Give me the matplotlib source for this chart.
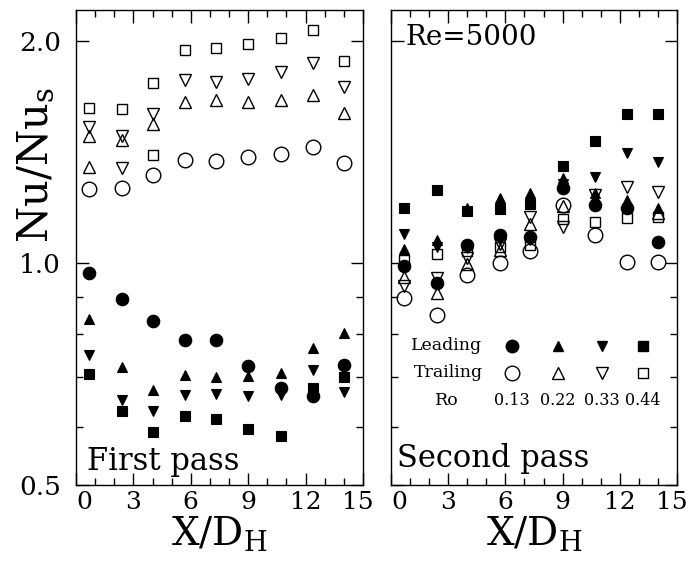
import numpy as np
import matplotlib.pyplot as plt
from matplotlib.ticker import FixedLocator, FixedFormatter, NullFormatter
from matplotlib.transforms import ScaledTranslation

plt.rcParams['font.family'] = 'DejaVu Serif'
plt.rcParams['mathtext.fontset'] = 'dejavuserif'
plt.rcParams['axes.linewidth'] = 1.0

# Measurement stations (X/D_H)
x_station = [0.7, 2.4, 4.0, 5.7, 7.3, 9.0, 10.7, 12.4, 14.0]
ro_labels = ['0.13', '0.22', '0.33', '0.44']

# First pass, leading wall (filled) for Ro = 0.13, 0.22, 0.33, 0.44
p1_lead_013 = [0.970, 0.893, 0.835, 0.785, 0.785, 0.724, 0.677, 0.660, 0.726]
p1_lead_022 = [0.838, 0.722, 0.672, 0.704, 0.700, 0.703, 0.708, 0.767, 0.804]
p1_lead_033 = [0.751, 0.651, 0.630, 0.663, 0.665, 0.660, 0.663, 0.715, 0.668]
p1_lead_044 = [0.706, 0.629, 0.589, 0.620, 0.614, 0.596, 0.583, 0.677, 0.701]

# First pass, trailing wall (open)
p1_trail_013 = [1.257, 1.261, 1.315, 1.380, 1.373, 1.389, 1.403, 1.436, 1.363]
p1_trail_022 = [1.484, 1.466, 1.540, 1.651, 1.660, 1.651, 1.660, 1.686, 1.595]
p1_trail_033 = [1.528, 1.484, 1.592, 1.770, 1.757, 1.775, 1.812, 1.864, 1.730]
p1_trail_044 = [1.622, 1.617, 1.751, 1.943, 1.953, 1.980, 2.017, 2.068, 1.874]

# extra open points in the first pass (one per series)
p1_extra_x = [0.7, 2.4, 4.0]
p1_extra_y = [1.349, 1.342, 1.399]
p1_extra_series = [1, 2, 3]

# Second pass, leading wall (filled)
p2_lead_013 = [0.989, 0.939, 1.057, 1.091, 1.083, 1.261, 1.198, 1.185, 1.068]
p2_lead_022 = [1.044, 1.072, 1.186, 1.223, 1.244, 1.301, 1.242, 1.216, 1.186]
p2_lead_033 = [1.093, 1.052, 1.047, 1.074, 1.074, 1.280, 1.305, 1.409, 1.370]
p2_lead_044 = [1.185, 1.255, 1.176, 1.181, 1.201, 1.352, 1.462, 1.592, 1.589]

# Second pass, trailing wall (open)
p2_trail_013 = [0.896, 0.849, 0.963, 0.999, 1.036, 1.198, 1.089, 1.004, 1.004]
p2_trail_022 = [0.958, 0.911, 0.997, 1.041, 1.129, 1.194, 1.220, 1.205, 1.168]
p2_trail_033 = [0.929, 0.954, 1.016, 1.061, 1.155, 1.119, 1.235, 1.268, 1.248]
p2_trail_044 = [1.009, 1.028, 1.036, 1.052, 1.057, 1.146, 1.134, 1.149, 1.154]

markers = ['o', '^', 'v', 's']
ms_filled = [9, 7.5, 7.5, 7]
ms_open = [10.5, 8, 8, 7.5]


def draw_pass(ax, lead, trail):
    for i, m in enumerate(markers):
        ax.plot(x_station, trail[i], ls='none', marker=m, ms=ms_open[i],
                mfc='none', mec='black', mew=1.0)
        ax.plot(x_station, lead[i], ls='none', marker=m, ms=ms_filled[i],
                mfc='black', mec='black', mew=0.8)


def style_axes(ax, ylabels):
    ax.set_yscale('log')
    ax.set_xlim(0, 15)
    ax.set_ylim(0.5, 2.2)
    ax.xaxis.set_major_locator(FixedLocator([0, 3, 6, 9, 12, 15]))
    ax.xaxis.set_major_formatter(FixedFormatter(['0', '3', '6', '9', '12', '15']))
    ax.xaxis.set_minor_locator(FixedLocator(list(range(1, 15))))
    ax.yaxis.set_major_locator(FixedLocator([0.5, 1.0, 2.0]))
    ax.yaxis.set_minor_locator(FixedLocator([0.6, 0.7, 0.8, 0.9]))
    ax.yaxis.set_minor_formatter(NullFormatter())
    if ylabels:
        ax.yaxis.set_major_formatter(FixedFormatter(['0.5', '1.0', '2.0']))
    else:
        ax.yaxis.set_major_formatter(NullFormatter())
    ax.tick_params(which='both', direction='in', top=True, right=True, width=1.0)
    ax.tick_params(which='major', length=9)
    ax.tick_params(axis='y', which='major', pad=11, labelsize=19)
    ax.tick_params(axis='x', which='major', pad=4, labelsize=18)
    ax.tick_params(which='minor', length=5)
    xlabs = ax.get_xticklabels()
    xlabs[0].set_horizontalalignment('left')
    xlabs[-1].set_transform(xlabs[-1].get_transform()
                            + ScaledTranslation(-4 / 72, 0, fig.dpi_scale_trans))
    ax.set_xlabel(r'$\mathrm{X/D_H}$', fontsize=28, labelpad=0)


fig = plt.figure(figsize=(6.89, 5.62), dpi=100)
ax1 = fig.add_axes([0.1103, 0.137, 0.4165, 0.8452])
ax2 = fig.add_axes([0.5675, 0.137, 0.4151, 0.8452])

draw_pass(ax1, [p1_lead_013, p1_lead_022, p1_lead_033, p1_lead_044],
          [p1_trail_013, p1_trail_022, p1_trail_033, p1_trail_044])
for xe, ye, si in zip(p1_extra_x, p1_extra_y, p1_extra_series):
    ax1.plot([xe], [ye], ls='none', marker=markers[si], ms=ms_open[si],
             mfc='none', mec='black', mew=1.0)

draw_pass(ax2, [p2_lead_013, p2_lead_022, p2_lead_033, p2_lead_044],
          [p2_trail_013, p2_trail_022, p2_trail_033, p2_trail_044])

style_axes(ax1, True)
style_axes(ax2, False)
ax1.set_ylabel(r'$\mathrm{Nu/Nu_s}$', fontsize=30)
ax1.yaxis.set_label_coords(-0.07, 0.674)

ax1.text(0.038, 0.032, 'First pass', transform=ax1.transAxes, fontsize=22)
ax2.text(0.021, 0.038, 'Second pass', transform=ax2.transAxes, fontsize=22)
ax2.text(0.049, 0.926, 'Re=5000', transform=ax2.transAxes, fontsize=20)

# key drawn as a small table inside the second-pass panel
key_x = [0.423, 0.584, 0.738, 0.881]
ax2.text(0.32, 0.293, 'Leading', transform=ax2.transAxes, fontsize=12.5,
         ha='right', va='center')
ax2.text(0.32, 0.236, 'Trailing', transform=ax2.transAxes, fontsize=12.5,
         ha='right', va='center')
ax2.text(0.196, 0.177, 'Ro', transform=ax2.transAxes, fontsize=12.5,
         ha='center', va='center')
for i, m in enumerate(markers):
    ax2.plot(key_x[i], 0.293, transform=ax2.transAxes, ls='none', marker=m,
             ms=ms_filled[i], mfc='black', mec='black')
    ax2.plot(key_x[i], 0.236, transform=ax2.transAxes, ls='none', marker=m,
             ms=ms_open[i], mfc='none', mec='black', mew=1.0)
    ax2.text(key_x[i], 0.177, ro_labels[i], transform=ax2.transAxes,
             fontsize=11.5, ha='center', va='center')

fig.savefig('out.png', dpi=100)
